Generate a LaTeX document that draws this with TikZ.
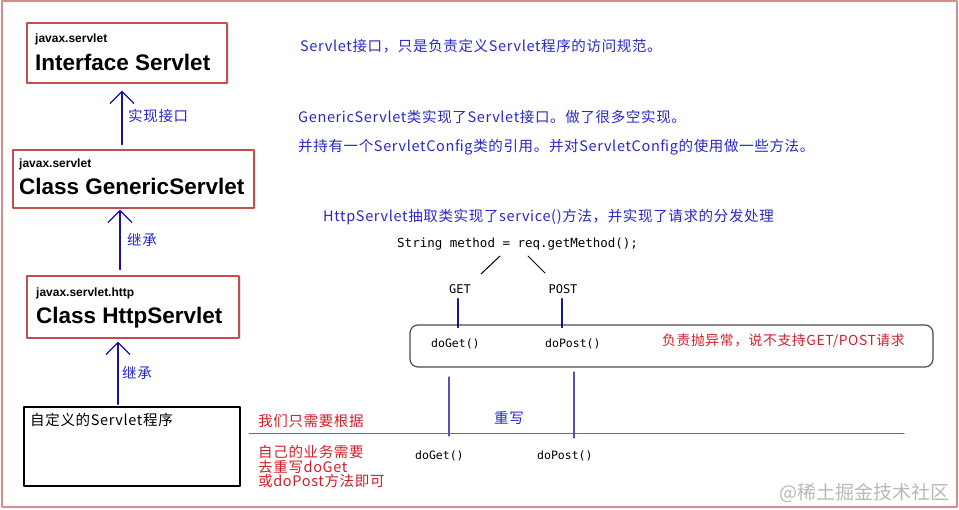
\documentclass[tikz,border=0pt]{standalone}
\usepackage{fontspec}
\setmainfont{Liberation Sans}
\newfontfamily\zhfont[LetterSpace=4.5]{Noto Sans CJK SC}
\newfontfamily\markfont{Noto Sans CJK SC}
\newfontfamily\codefont{DejaVu Sans Mono}
\usetikzlibrary{arrows.meta,calc,shadows}
\definecolor{boxred}{RGB}{192,80,77}
\definecolor{framered}{RGB}{214,140,140}
\definecolor{noteblue}{RGB}{40,40,200}
\definecolor{arrowblue}{RGB}{20,20,160}
\definecolor{notered}{RGB}{208,30,40}
\definecolor{wirepurple}{RGB}{90,80,180}

\begin{document}
\begin{tikzpicture}[x=1pt,y=-1pt,line cap=round,line join=round,
    classbox/.style={draw=boxred,line width=1.2pt,fill=white,inner sep=0pt,
      drop shadow={shadow xshift=1.5pt,shadow yshift=-1.5pt,opacity=0.2}},
    pkg/.style={anchor=base west,inner sep=0pt,font=\bfseries\fontsize{12}{12}\selectfont},
    cls/.style={anchor=base west,inner sep=0pt,font=\bfseries\fontsize{22.5}{22.5}\selectfont},
    zh/.style={anchor=west,inner sep=0pt,font=\zhfont\fontsize{14.5}{14.5}\selectfont},
    note/.style={zh,text=noteblue},
    warn/.style={zh,text=notered},
    code/.style={inner sep=0pt,font=\codefont\fontsize{12}{12}\selectfont},
    inherit/.style={draw=arrowblue,line width=1.6pt,-{Straight Barb[length=12pt,width=24pt,line width=1.3pt]}},
    fork/.style={draw=black,line width=1pt},
    wire/.style={draw=arrowblue,line width=1.6pt},
    override/.style={draw=wirepurple,line width=1.2pt},
    redline/.style={draw=boxred,line width=1pt}]
    \path[use as bounding box] (0,0) rectangle (959,510);
    \draw[framered,line width=2pt] (1.5,1.5) rectangle (957,506.5);

    % class hierarchy
    \node[classbox,minimum width=200,minimum height=60] (iface) at (127,53) {};
    \node[pkg] (iface-pkg) at (35,43) {javax.servlet};
    \node[cls] (iface-name) at (35,71) {Interface Servlet};

    \node[classbox,minimum width=241,minimum height=58] (generic) at (133.5,179) {};
    \node[pkg] (generic-pkg) at (19,168) {javax.servlet};
    \node[cls] (generic-name) at (19,195) {Class GenericServlet};

    \node[classbox,minimum width=212,minimum height=62] (http) at (133,307) {};
    \node[pkg] (http-pkg) at (36,297) {javax.servlet.http};
    \node[cls] (http-name) at (36,324) {Class HttpServlet};

    \node[draw=black,line width=1.5pt,minimum width=216,minimum height=79] (custom) at (132,446.5) {};
    \node[zh,anchor=base west] (custom-name) at (30,426) {自定义的Servlet程序};

    \coordinate (col1) at (122,0);
    \coordinate (col2) at (120,0);
    \coordinate (col3) at (118,0);
    \draw[inherit,shorten <=5pt,shorten >=7pt] (generic.north -| col1) -- (iface.south -| col1);
    \draw[inherit,shorten <=6pt,shorten >=1pt] (http.north -| col2) -- (generic.south -| col2);
    \draw[inherit,shorten <=2pt,shorten >=3pt] (custom.north -| col3) -- (http.south -| col3);
    \node[note] (impl) at (128,116) {实现接口};
    \node[note] (ext1) at (127,240) {继承};
    \node[note] (ext2) at (122,373) {继承};

    % notes
    \node[note] (n-servlet) at (300,46) {Servlet接口，只是负责定义Servlet程序的访问规范。};
    \node[note] (n-generic) at (298,117) {GenericServlet类实现了Servlet接口。做了很多空实现。};
    \node[note] (n-config) at (298,147) {并持有一个ServletConfig类的引用。并对ServletConfig的使用做一些方法。};
    \node[note] (n-http) at (323,217) {HttpServlet抽取类实现了service()方法，并实现了请求的分发处理};

    % dispatch
    \node[code,anchor=west,font=\codefont\fontsize{12.5}{12.5}\selectfont] (getm) at (397,244) {String method = req.getMethod();};
    \node[code] (get) at (460,289) {GET};
    \node[code] (post) at (563,289) {POST};
    \draw[fork] ($(get)+(40,-33)$) -- ($(get)+(21,-15)$);
    \draw[fork] ($(post)+(-35,-33)$) -- ($(post)+(-18,-16)$);

    \node[draw=black!70,line width=1.2pt,rounded corners=8pt,minimum width=523,minimum height=42] (disp) at (671.5,346) {};
    \draw[wire] ($(get.south)+(-2,5)$) -- ($(get.south |- disp.north)+(-2,3)$);
    \draw[wire] ($(post.south)+(-1,5)$) -- ($(post.south |- disp.north)+(-1,3)$);
    \node[code,anchor=west,font=\codefont\fontsize{11.5}{11.5}\selectfont] (doget1) at (431,344) {doGet()};
    \node[code,anchor=west,font=\codefont\fontsize{11.5}{11.5}\selectfont] (dopost1) at (545,344) {doPost()};
    \node[warn,font=\zhfont\fontsize{13.8}{13.8}\selectfont] (n-throw) at (662,341) {负责抛异常，说不支持GET/POST请求};

    % override
    \coordinate (rl-a) at (249,434);
    \coordinate (rl-b) at (904,434);
    \draw[redline] (rl-a) -- (rl-b);
    \coordinate (og-top) at (449,377);
    \coordinate (og-bot) at (449,436);
    \coordinate (op-top) at (574,372);
    \coordinate (op-bot) at (574,438);
    \draw[override] (og-top) -- (og-bot);
    \draw[override] (op-top) -- (op-bot);
    \node[note] (n-override) at (494,418) {重写};
    \node[code,anchor=west,font=\codefont\fontsize{11.5}{11.5}\selectfont] (doget2) at (415,456) {doGet()};
    \node[code,anchor=west,font=\codefont\fontsize{11.5}{11.5}\selectfont] (dopost2) at (537,456) {doPost()};

    \node[warn] (n-only) at (258,421) {我们只需要根据};
    \node[warn,anchor=north west,align=left] (n-need) at (258,445.5) {自己的业务需要\\去重写doGet\\或doPost方法即可};

    \node[anchor=east,inner sep=0pt,text=black!28,font=\markfont\fontsize{19}{19}\selectfont] (mark) at (950,493) {@稀土掘金技术社区};
\end{tikzpicture}
\end{document}
